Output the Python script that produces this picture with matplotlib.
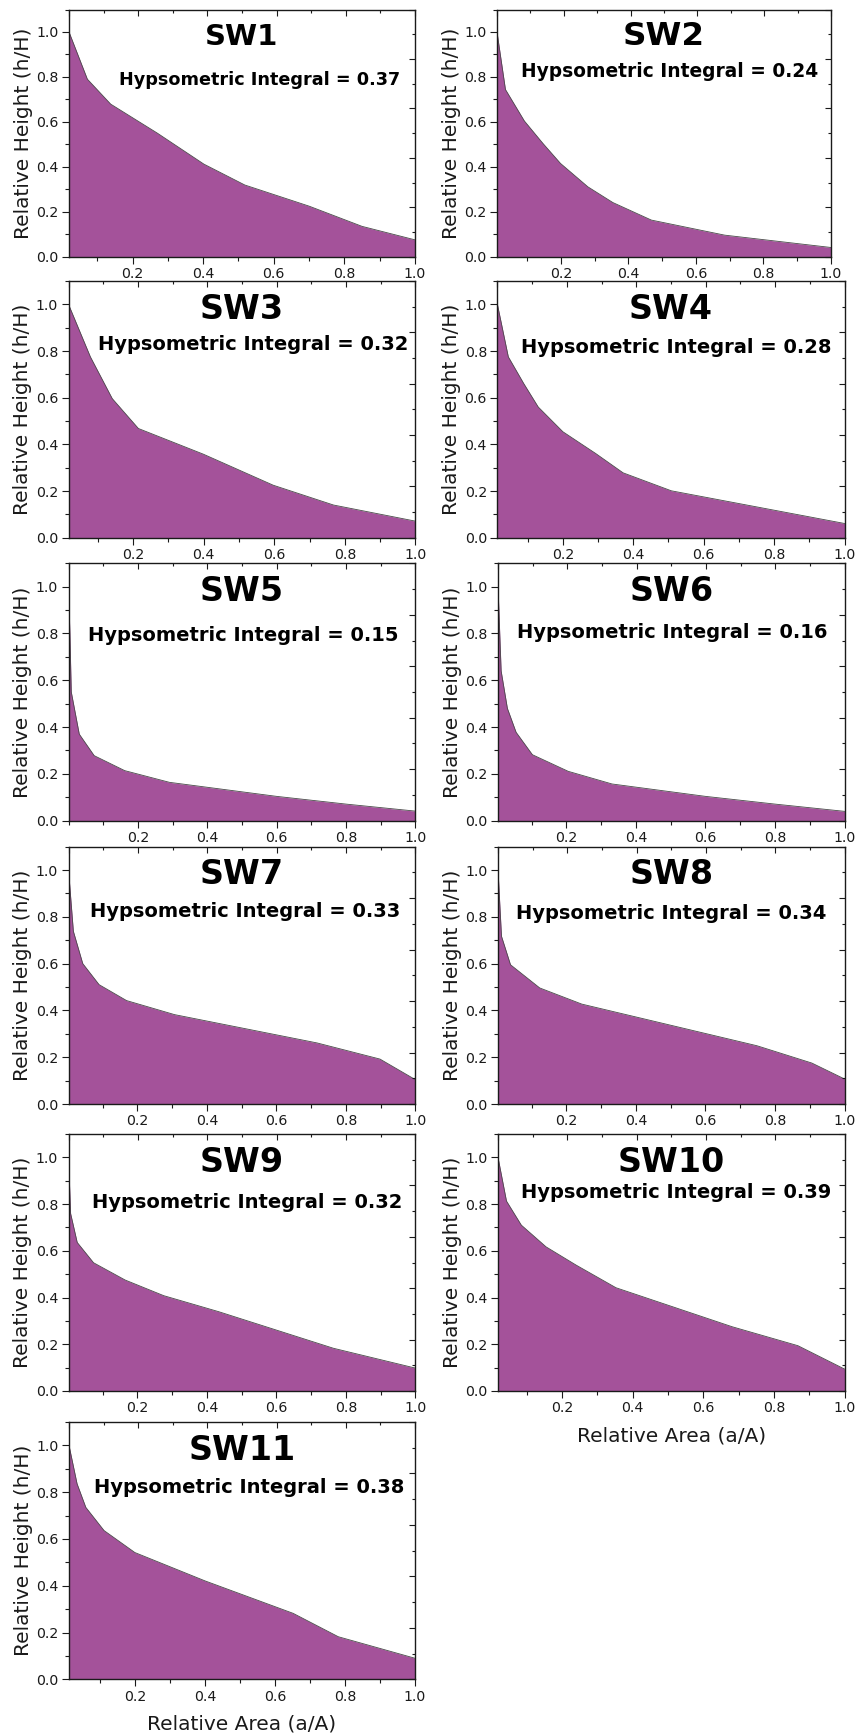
import matplotlib
matplotlib.use("Agg")
import matplotlib.pyplot as plt
import numpy as np
from matplotlib.ticker import MultipleLocator

# data
names = ["SW1", "SW2", "SW3", "SW4", "SW5", "SW6", "SW7", "SW8", "SW9", "SW10", "SW11"]
hi_values = ["0.37", "0.24", "0.32", "0.28", "0.15", "0.16", "0.33", "0.34", "0.32", "0.39", "0.38"]

sw1_x = [0.02, 0.072, 0.138, 0.27, 0.402, 0.518, 0.70, 0.85, 1.0]
sw1_y = [1.0, 0.79, 0.679, 0.55, 0.412, 0.319, 0.225, 0.135, 0.075]
sw2_x = [0.011, 0.036, 0.092, 0.147, 0.199, 0.28, 0.354, 0.468, 0.685, 1.0]
sw2_y = [1.0, 0.744, 0.604, 0.504, 0.415, 0.311, 0.241, 0.163, 0.096, 0.041]
sw3_x = [0.017, 0.079, 0.141, 0.215, 0.399, 0.597, 0.768, 1.0]
sw3_y = [1.0, 0.775, 0.596, 0.468, 0.358, 0.225, 0.14, 0.071]
sw4_x = [0.014, 0.045, 0.089, 0.13, 0.2, 0.293, 0.371, 0.508, 1.0]
sw4_y = [1.0, 0.775, 0.66, 0.56, 0.454, 0.361, 0.278, 0.201, 0.061]
sw5_x = [0.0, 0.004, 0.008, 0.031, 0.074, 0.162, 0.291, 0.6, 0.8, 1.0]
sw5_y = [1.0, 0.80, 0.55, 0.37, 0.278, 0.214, 0.164, 0.104, 0.071, 0.041]
sw6_x = [0.003, 0.012, 0.03, 0.055, 0.102, 0.205, 0.331, 0.6, 0.8, 1.0]
sw6_y = [1.0, 0.64, 0.48, 0.378, 0.282, 0.211, 0.157, 0.104, 0.071, 0.040]
sw7_x = [0.002, 0.016, 0.043, 0.09, 0.169, 0.307, 0.717, 0.898, 1.0]
sw7_y = [1.0, 0.738, 0.6, 0.51, 0.442, 0.382, 0.261, 0.192, 0.104]
sw8_x = [0.003, 0.013, 0.039, 0.123, 0.244, 0.748, 0.906, 1.0]
sw8_y = [1.0, 0.717, 0.595, 0.496, 0.427, 0.249, 0.175, 0.107]
sw9_x = [0.002, 0.008, 0.027, 0.074, 0.165, 0.276, 0.433, 0.764, 1.0]
sw9_y = [1.0, 0.76, 0.636, 0.549, 0.475, 0.408, 0.34, 0.183, 0.098]
sw10_x = [0.019, 0.043, 0.085, 0.155, 0.24, 0.353, 0.682, 0.868, 1.0]
sw10_y = [1.0, 0.813, 0.71, 0.617, 0.539, 0.442, 0.275, 0.194, 0.094]
sw11_x = [0.012, 0.035, 0.06, 0.112, 0.2, 0.4, 0.652, 0.781, 1.0]
sw11_y = [1.0, 0.836, 0.735, 0.636, 0.542, 0.421, 0.282, 0.182, 0.09]

curves = [(sw1_x, sw1_y), (sw2_x, sw2_y), (sw3_x, sw3_y), (sw4_x, sw4_y),
          (sw5_x, sw5_y), (sw6_x, sw6_y), (sw7_x, sw7_y), (sw8_x, sw8_y),
          (sw9_x, sw9_y), (sw10_x, sw10_y), (sw11_x, sw11_y)]

# layout (pixels: left, top, right, bottom)
W, H = 856, 1736
boxes = [(69, 9.5, 415, 256.7), (497, 9.5, 831, 256.7),
         (68.5, 281, 415.4, 537.7), (497.4, 281, 844.5, 537.7),
         (68.5, 563.3, 415.4, 820.7), (498, 563.3, 844.5, 820.7),
         (68.5, 846.6, 415.4, 1104), (498, 846.6, 844.5, 1104),
         (68.5, 1134, 415.4, 1391), (498, 1134, 844.5, 1391),
         (69, 1422, 415, 1679.3)]
title_size = [21, 23.4, 24, 24, 24, 24, 24, 24, 24, 24, 24]
hi_size = [12.7, 13.4, 14, 14, 14, 14, 14, 14, 14, 14, 14]
hi_pos = [(0.55, 0.713), (0.517, 0.749), (0.533, 0.751), (0.514, 0.74),
          (0.504, 0.718), (0.502, 0.732), (0.509, 0.746), (0.50, 0.741),
          (0.515, 0.733), (0.514, 0.772), (0.52, 0.745)]

purple = "#A4529A"
ink = "#1a1a1a"

fig = plt.figure(figsize=(W / 100, H / 100), dpi=100)

for i, (xs, ys) in enumerate(curves):
    l, t, r, b = boxes[i]
    rect = [l / W, 1 - b / H, (r - l) / W, (b - t) / H]
    ax = fig.add_axes(rect)
    ax.fill_between(xs, ys, 0, color=purple, linewidth=0)
    ax.plot(xs, ys, color="#4a4a4a", lw=0.6)
    ax.set_xlim(xs[0], 1.0)
    ax.set_ylim(0, 1.1)
    ax.set_xticks([0.2, 0.4, 0.6, 0.8, 1.0])
    ax.set_yticks(np.arange(0, 1.01, 0.2))
    ax.xaxis.set_minor_locator(MultipleLocator(0.1))
    ax.yaxis.set_minor_locator(MultipleLocator(0.1))
    ax.tick_params(which="both", direction="out", top=False, right=False,
                   labelsize=10.2, labelcolor=ink, color=ink, width=0.8, pad=2.5)
    ax.tick_params(which="major", length=5)
    ax.tick_params(which="minor", length=3)
    for s in ax.spines.values():
        s.set_linewidth(1.0)
        s.set_color(ink)

    # top / right frame: inward ticks on their own 0..1 scale, no labels
    ov = fig.add_axes(rect, frameon=False)
    ov.patch.set_visible(False)
    ov.set_xlim(0, 1)
    ov.set_ylim(0, 1)
    ov.xaxis.set_major_locator(MultipleLocator(0.2))
    ov.xaxis.set_minor_locator(MultipleLocator(0.1))
    ov.yaxis.set_major_locator(MultipleLocator(0.2))
    ov.yaxis.set_minor_locator(MultipleLocator(0.1))
    ov.tick_params(which="both", direction="in", color=ink, width=0.8,
                   bottom=False, left=False, top=True, right=True,
                   labelbottom=False, labelleft=False, labeltop=False, labelright=False)
    ov.tick_params(which="major", length=4)
    ov.tick_params(which="minor", length=2.5)

    ax.text(0.5, 0.89, names[i], transform=ax.transAxes, ha="center", va="center",
            fontsize=title_size[i], fontweight="bold", color="black")
    hx, hy = hi_pos[i]
    ax.text(hx, hy, "Hypsometric Integral = " + hi_values[i], transform=ax.transAxes,
            ha="center", va="center", fontsize=hi_size[i], fontweight="bold", color="black")

    ax.set_ylabel("Relative Height (h/H)", fontsize=14.5, color=ink)
    ax.yaxis.set_label_coords(-36 / (r - l), 0.5)
    if names[i] in ("SW10", "SW11"):
        ax.set_xlabel("Relative Area (a/A)", fontsize=14.5, color=ink)
        ax.xaxis.set_label_coords(0.5, -35 / (b - t))

fig.savefig("out.png", dpi=100, facecolor="white")
